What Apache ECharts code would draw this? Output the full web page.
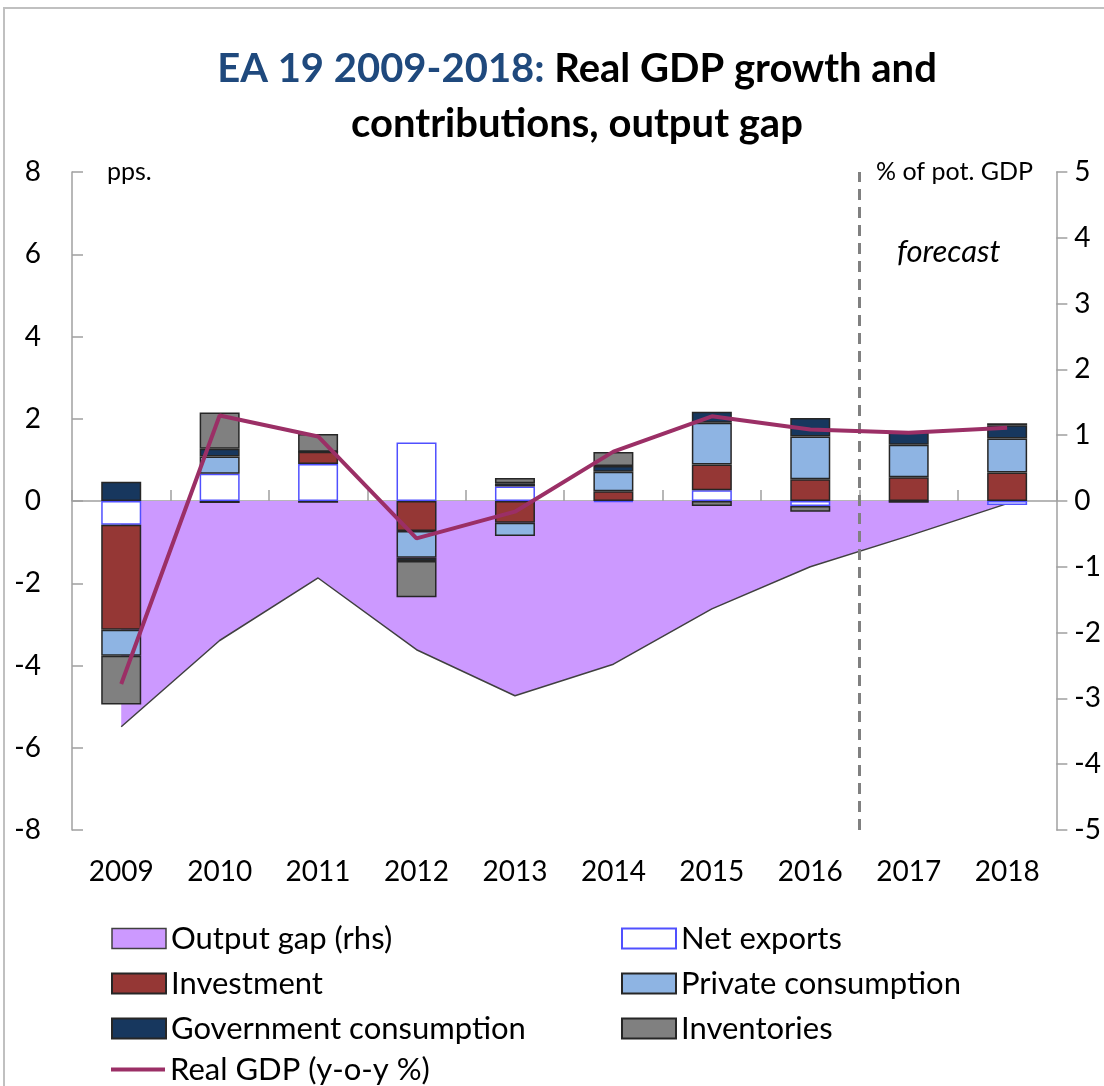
<!DOCTYPE html>
<html>
<head>
<meta charset="utf-8">
<script src="https://cdn.jsdelivr.net/npm/echarts@6/dist/echarts.min.js"></script>
<style>html,body{margin:0;padding:0;background:#fff}#c{width:1104px;height:1086px}</style>
</head>
<body>
<div id="c"></div>
<script>
const years = ['2009','2010','2011','2012','2013','2014','2015','2016','2017','2018'];
const netExports  = [-0.58, 0.66, 0.90, 1.42, 0.35, -0.02, 0.26, -0.12, 0.00, -0.10];
const investment  = [-2.55, -0.05, 0.30, -0.73, -0.53, 0.24, 0.63, 0.53, 0.58, 0.69];
const privateCons = [-0.63, 0.42, 0.00, -0.65, -0.32, 0.47, 1.01, 1.04, 0.79, 0.83];
const govCons     = [0.47, 0.19, -0.04, -0.08, 0.08, 0.14, 0.27, 0.45, 0.30, 0.32];
const inventories = [-1.19, 0.88, 0.43, -0.88, 0.13, 0.34, -0.12, -0.14, -0.04, 0.05];
const realGdp     = [-4.45, 2.08, 1.57, -0.91, -0.26, 1.20, 2.06, 1.74, 1.66, 1.78];
const outputGap   = [-3.43, -2.12, -1.17, -2.26, -2.96, -2.48, -1.64, -1.00, -0.53, -0.04];
const forecastStart = 8; // boundary between 2016 and 2017 (category index units)
const leftTicks = {min: -8, max: 8, interval: 2};
const rightTicks = {min: -5, max: 5, interval: 1};

const FONT = 'Lato';
const chart = echarts.init(document.getElementById('c'));
const barBorder = {borderColor: '#262626', borderWidth: 1.5};
function bar(name, data, color, extra) {
  return {
    name, type: 'bar', stack: 'total', data, barWidth: 40, z: 3,
    itemStyle: Object.assign({color}, barBorder, extra || {})
  };
}
const legendCommon = {
  orient: 'vertical', padding: 0, itemGap: 14,
  itemWidth: 54, itemHeight: 20,
  textStyle: {fontFamily: FONT, fontSize: 31, color: '#000', lineHeight: 30}
};
const option = {
  animation: false,
  backgroundColor: '#fff',
  grid: {left: 72, right: 47, top: 172, bottom: 256, containLabel: false},
  xAxis: [
    {type: 'category', data: years, position: 'bottom',
     axisLine: {onZero: true, lineStyle: {color: '#a0a0a0', width: 1.5}},
     axisTick: {show: true, inside: true, length: 11, lineStyle: {color: '#a0a0a0', width: 1.5}},
     axisLabel: {show: false}, splitLine: {show: false}},
    {type: 'category', data: years, position: 'bottom',
     axisLine: {show: false, onZero: false}, axisTick: {show: false},
     axisLabel: {margin: 28, fontFamily: FONT, fontSize: 28, color: '#000'}},
    {type: 'value', min: 0, max: years.length, show: false}
  ],
  yAxis: [
    {type: 'value', min: leftTicks.min, max: leftTicks.max, interval: leftTicks.interval, position: 'left',
     axisLine: {show: true, lineStyle: {color: '#a0a0a0', width: 1.5}},
     axisTick: {show: true, inside: true, length: 11, lineStyle: {color: '#a0a0a0', width: 1.5}},
     axisLabel: {margin: 31, fontFamily: FONT, fontSize: 28, color: '#000'},
     splitLine: {show: false}},
    {type: 'value', min: rightTicks.min, max: rightTicks.max, interval: rightTicks.interval, position: 'right',
     axisLine: {show: true, lineStyle: {color: '#a0a0a0', width: 1.5}},
     axisTick: {show: true, inside: false, length: 11, lineStyle: {color: '#a0a0a0', width: 1.5}},
     axisLabel: {margin: 18, fontFamily: FONT, fontSize: 28, color: '#000'},
     splitLine: {show: false}}
  ],
  legend: [
    Object.assign({left: 111, top: 923, data: [
       {name: 'Output gap (rhs)', icon: 'rect', itemStyle: {color: '#CC99FF', borderColor: '#404040', borderWidth: 1.5}},
       {name: 'Investment', icon: 'rect'},
       {name: 'Government consumption', icon: 'rect'}
     ]}, legendCommon),
    Object.assign({left: 111, top: 1054, data: [
       {name: 'Real GDP (y-o-y %)', icon: 'path://M0,0h54v4h-54z', itemStyle: {color: '#9B2F66', borderWidth: 0}}
     ]}, legendCommon),
    Object.assign({left: 621, top: 923, data: [
       {name: 'Net exports', icon: 'rect'},
       {name: 'Private consumption', icon: 'rect'},
       {name: 'Inventories', icon: 'rect'}
     ]}, legendCommon)
  ],
  series: [
    {name: 'Output gap (rhs)', type: 'line', yAxisIndex: 1, data: outputGap, z: 1,
     symbol: 'none', lineStyle: {color: '#404040', width: 1.5},
     itemStyle: {color: '#CC99FF'},
     areaStyle: {color: '#CC99FF', opacity: 1}},
    bar('Net exports', netExports, '#FFFFFF', {borderColor: '#5050FF'}),
    bar('Investment', investment, '#953735'),
    bar('Private consumption', privateCons, '#8EB4E3'),
    bar('Government consumption', govCons, '#17375E'),
    bar('Inventories', inventories, '#808080'),
    {name: 'Real GDP (y-o-y %)', type: 'line', data: realGdp, z: 5,
     symbol: 'none', lineStyle: {color: '#9B2F66', width: 4}, itemStyle: {color: '#9B2F66'}},
    {name: 'forecastMarker', type: 'line', xAxisIndex: 2, yAxisIndex: 0, data: [], z: 4,
     markLine: {symbol: 'none', silent: true, label: {show: false},
       lineStyle: {type: [11, 7], color: '#808080', width: 3},
       data: [{xAxis: forecastStart}]}}
  ],
  graphic: [
    {type: 'rect', z: -1, shape: {x: 4, y: 8, width: 1200, height: 1200},
     style: {fill: 'none', stroke: '#c0c0c0', lineWidth: 2}},
    {type: 'text', x: 577, y: 42,
     style: {text: '{b|EA 19 2009-2018:} Real GDP growth and\ncontributions, output gap',
       textAlign: 'center', fill: '#000', font: 'bold 40px Lato', lineHeight: 55,
       rich: {b: {fill: '#1F497D', fontFamily: FONT, fontWeight: 'bold', fontSize: 40, lineHeight: 55}}}},
    {type: 'text', x: 107, y: 159, style: {text: 'pps.', fill: '#000', font: '25px Lato'}},
    {type: 'text', x: 876, y: 159, style: {text: '% of pot. GDP', fill: '#000', font: '25px Lato'}},
    {type: 'text', x: 897, y: 236, style: {text: 'forecast', fill: '#000', font: 'italic 31px Lato'}}
  ]
};
chart.setOption(option);
</script>
</body>
</html>
